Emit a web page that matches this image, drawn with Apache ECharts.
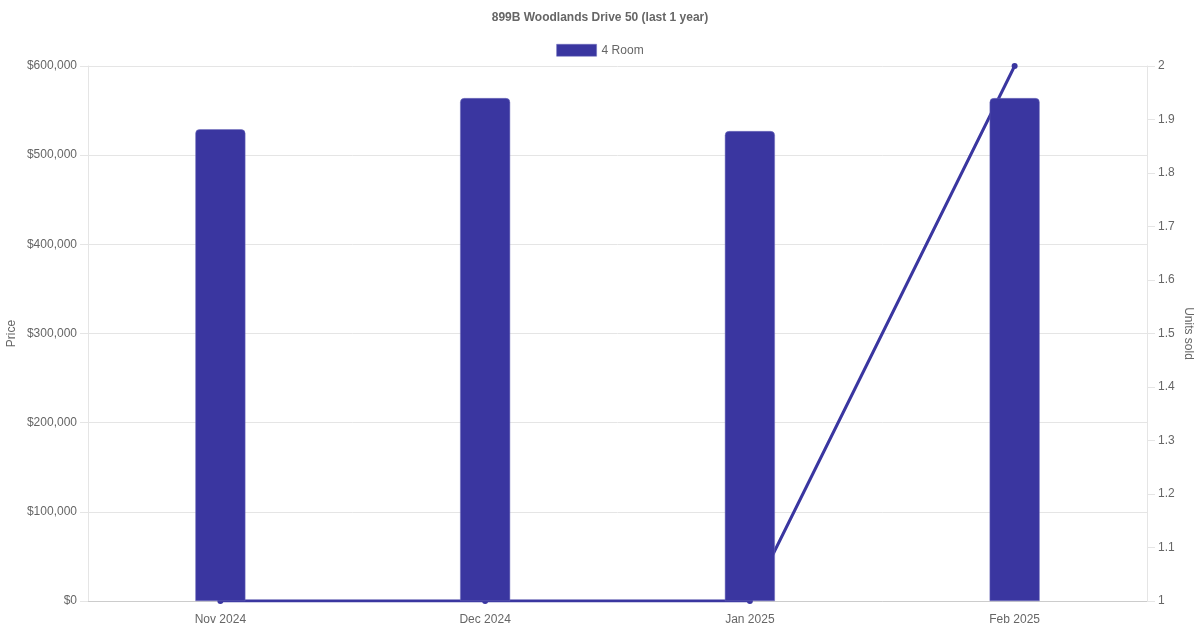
<!DOCTYPE html>
<html>
<head>
<meta charset="utf-8">
<script src="https://cdn.jsdelivr.net/npm/echarts@6/dist/echarts.min.js"></script>
<style>html,body{margin:0;padding:0;background:#fff}#c{width:1200px;height:630px}</style>
</head>
<body>
<div id="c"></div>
<script>
const categories = ['Nov 2024', 'Dec 2024', 'Jan 2025', 'Feb 2025'];
const prices = [529000, 564000, 527000, 564000];
const unitsSold = [1, 1, 1, 2];
const seriesName = '4 Room';
const titleText = '899B Woodlands Drive 50 (last 1 year)';

const font = 'Liberation Sans, Arial, Helvetica, sans-serif';
const color = '#3a36a0';
const chart = echarts.init(document.getElementById('c'), null, {renderer: 'canvas'});
chart.setOption({
  animation: false,
  textStyle: {fontFamily: font},
  title: {
    text: titleText, left: 'center', top: 7,
    textStyle: {fontSize: 12, fontWeight: 'bold', color: '#666', fontFamily: font}
  },
  legend: {
    data: [seriesName], top: 39, left: 'center', icon: 'rect',
    itemWidth: 40, itemHeight: 12, itemGap: 10,
    itemStyle: {borderWidth: 0.5, borderColor: '#6f6cbd'},
    textStyle: {fontSize: 12, color: '#666', fontFamily: font}
  },
  grid: {left: 88, right: 53, top: 66, bottom: 29, containLabel: false, outerBoundsMode: 'none'},
  xAxis: {
    type: 'category', data: categories,
    axisLine: {show: true, lineStyle: {color: '#cccccc', width: 1}},
    axisTick: {show: false},
    splitLine: {show: false},
    axisLabel: {color: '#666', fontSize: 12, margin: 13, fontFamily: font}
  },
  yAxis: [
    {
      type: 'value', min: 0, max: 600000, interval: 100000,
      name: 'Price', nameLocation: 'middle', nameGap: 70, nameRotate: 90, nameMoveOverlap: false,
      nameTextStyle: {color: '#666', fontSize: 12, fontFamily: font},
      axisLine: {show: true, lineStyle: {color: '#e5e5e5'}},
      axisTick: {show: true, length: 8, lineStyle: {color: '#e5e5e5'}},
      splitLine: {show: true, lineStyle: {color: '#e5e5e5'}},
      axisLabel: {
        color: '#666', fontSize: 12, margin: 11, fontFamily: font,
        formatter: v => '$' + v.toLocaleString('en-US')
      }
    },
    {
      type: 'value', min: 1, max: 2, interval: 0.1, position: 'right',
      name: 'Units sold', nameLocation: 'middle', nameGap: 35, nameRotate: -90, nameMoveOverlap: false,
      nameTextStyle: {color: '#666', fontSize: 12, fontFamily: font},
      axisLine: {show: true, lineStyle: {color: '#e5e5e5'}},
      axisTick: {show: true, length: 8, lineStyle: {color: '#e5e5e5'}},
      splitLine: {show: false},
      axisLabel: {
        color: '#666', fontSize: 12, margin: 11, fontFamily: font,
        formatter: v => String(Math.round(v * 10) / 10)
      }
    }
  ],
  series: [
    {
      name: 'Units', type: 'line', yAxisIndex: 1, data: unitsSold, z: 1,
      symbol: 'circle', symbolSize: 6,
      lineStyle: {color: color, width: 3},
      itemStyle: {color: color}
    },
    {
      name: seriesName, type: 'bar', yAxisIndex: 0, data: prices, z: 2,
      barWidth: 50,
      itemStyle: {color: color, borderColor: '#6f6cbd', borderWidth: 0.5, borderRadius: [4, 4, 0, 0]}
    }
  ]
});
</script>
</body>
</html>
